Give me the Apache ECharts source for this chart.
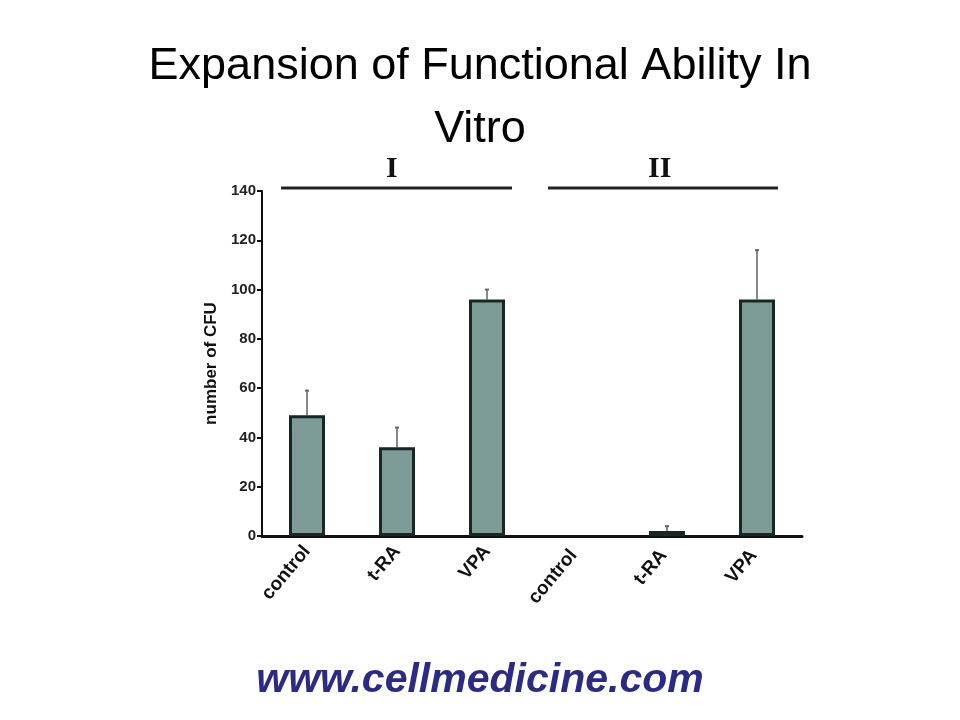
<!DOCTYPE html>
<html><head><meta charset="utf-8">
<script src="https://cdn.jsdelivr.net/npm/echarts@6/dist/echarts.min.js"></script>
<style>html,body{margin:0;background:#fff}#c{width:960px;height:720px}</style>
</head><body><div id="c"></div>
<script>
const categories = ['control','t-RA','VPA','control ','t-RA ','VPA '];
const values = [49, 36, 96, null, 2, 96];
const errors = [10, 8, 4, null, 2, 20];
const yTicks = [0,20,40,60,80,100,120,140];

const chart = echarts.init(document.getElementById('c'));
chart.setOption({
  backgroundColor:'#fff',
  animation:false,
  title:{text:'Expansion of Functional Ability In\nVitro',left:'center',top:30,
    textStyle:{fontFamily:'Liberation Sans',fontSize:45,fontWeight:'normal',color:'#000',lineHeight:63}},
  grid:{left:262,top:191,width:540,height:345},
  xAxis:{type:'category',data:categories,
    axisLine:{lineStyle:{color:'#111',width:3}},axisTick:{show:false},
    axisLabel:{rotate:50,fontSize:19,fontWeight:'bold',color:'#111',fontFamily:'Liberation Sans',margin:12}},
  yAxis:{type:'value',min:0,max:140,interval:20,
    name:'number of CFU',nameLocation:'middle',nameGap:42,
    nameTextStyle:{fontSize:17,fontWeight:'bold',color:'#111',fontFamily:'Liberation Sans'},
    splitLine:{show:false},
    axisLine:{show:true,lineStyle:{color:'#111',width:2}},
    axisTick:{show:true,length:5,lineStyle:{color:'#111',width:2}},
    axisLabel:{fontSize:15,fontWeight:'bold',color:'#222',fontFamily:'Liberation Sans',margin:6,
      formatter:v=>yTicks.includes(v)?String(v):''}},
  series:[
    {type:'bar',data:values,barWidth:36,
      itemStyle:{color:'#7d9c98',borderColor:'#1a2624',borderWidth:3}},
    {type:'custom',data:values.map((v,i)=>[i,v,errors[i]]),z:1,
      renderItem:(params,api)=>{
        const v=api.value(1), e=api.value(2);
        if(v==null||isNaN(v)||isNaN(e)) return;
        const p0=api.coord([api.value(0),v]), p1=api.coord([api.value(0),v+e]);
        return {type:'group',children:[
          {type:'line',shape:{x1:p0[0],y1:p0[1],x2:p1[0],y2:p1[1]},style:{stroke:'#888',lineWidth:2}},
          {type:'line',shape:{x1:p1[0]-2,y1:p1[1],x2:p1[0]+2,y2:p1[1]},style:{stroke:'#666',lineWidth:2}}
        ]};
      }}
  ],
  graphic:[
    {type:'line',shape:{x1:281,y1:188,x2:512,y2:188},style:{stroke:'#222',lineWidth:3}},
    {type:'line',shape:{x1:548,y1:188,x2:778,y2:188},style:{stroke:'#222',lineWidth:3}},
    {type:'text',left:386,top:154,style:{text:'I',font:'bold 30px "Liberation Serif"',fill:'#111'}},
    {type:'text',left:648,top:154,style:{text:'II',font:'bold 30px "Liberation Serif"',fill:'#111'}},
    {type:'text',left:'center',top:660,style:{text:'www.cellmedicine.com',font:'italic bold 41px "Liberation Sans"',fill:'#2b2b86'}}
  ]
});
</script></body></html>
